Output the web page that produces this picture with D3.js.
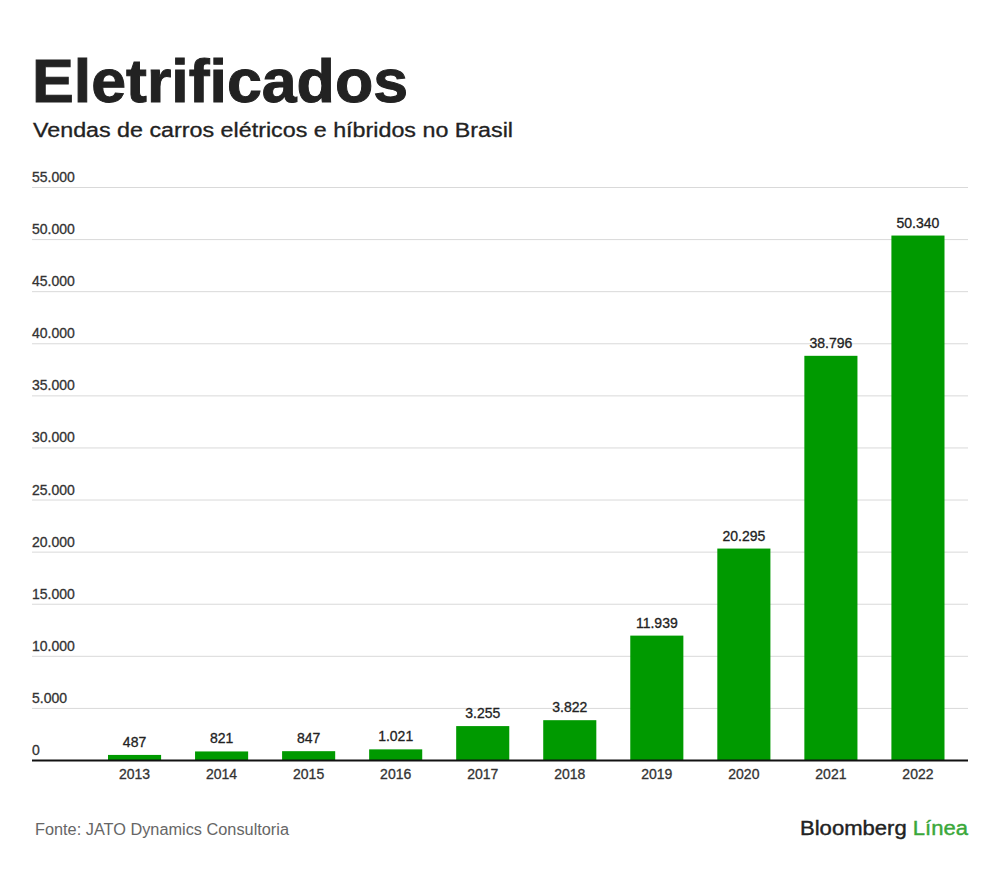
<!DOCTYPE html>
<html>
<head>
  <meta charset="utf-8">
  <title>Eletrificados</title>
  <style>
    body { margin: 0; background: #fff; }
    text { font-family: "Liberation Sans", Arial, sans-serif; }
    .grid line { stroke: #d9d9d9; stroke-width: 1px; }
    .tick-label { font-size: 14px; fill: #333; stroke: #333; stroke-width: 0.3px; }
    .year { font-size: 14px; fill: #333; stroke: #333; stroke-width: 0.3px; }
    .value { font-size: 14px; fill: #222; stroke: #222; stroke-width: 0.3px; }
  </style>
</head>
<body>
  <div id="chart"></div>

  <script src="https://d3js.org/d3.v7.min.js"></script>
  <script>
    var years = ["2013", "2014", "2015", "2016", "2017", "2018", "2019", "2020", "2021", "2022"];
    var sales = [487, 821, 847, 1021, 3255, 3822, 11939, 20295, 38796, 50340];
    var yTicks = [0, 5000, 10000, 15000, 20000, 25000, 30000, 35000, 40000, 45000, 50000, 55000];

    var width = 1000, height = 872;
    var gridLeft = 32, gridRight = 968;

    var svg = d3.select("#chart").append("svg")
      .attr("width", width)
      .attr("height", height);

    var fmt = function(v) {
      return d3.format(",")(v).replace(/,/g, ".");
    };

    var y = d3.scaleLinear().domain([0, 55000]).range([760, 187]);
    var x = d3.scaleBand().domain(years).range([84.5, 968])
      .paddingInner(0.39).paddingOuter(0.27);

    // titles
    svg.append("text")
      .attr("x", 32).attr("y", 102)
      .attr("font-size", 62).attr("font-weight", "bold")
      .attr("fill", "#222").attr("stroke", "#222").attr("stroke-width", 1)
      .attr("textLength", 376)
      .attr("lengthAdjust", "spacingAndGlyphs")
      .text("Eletrificados");

    svg.append("text")
      .attr("x", 33).attr("y", 137)
      .attr("font-size", 20)
      .attr("fill", "#222").attr("stroke", "#222").attr("stroke-width", 0.3)
      .attr("textLength", 480)
      .attr("lengthAdjust", "spacingAndGlyphs")
      .text("Vendas de carros elétricos e híbridos no Brasil");

    // grid
    var grid = svg.append("g").attr("class", "grid");
    grid.selectAll("line")
      .data(yTicks.filter(function(d) { return d > 0; }))
      .enter().append("line")
      .attr("x1", gridLeft).attr("x2", gridRight)
      .attr("y1", function(d) { return y(d) + 0.5; })
      .attr("y2", function(d) { return y(d) + 0.5; });

    svg.selectAll("text.tick-label")
      .data(yTicks)
      .enter().append("text")
      .attr("class", "tick-label")
      .attr("x", gridLeft)
      .attr("y", function(d) { return y(d) - 5; })
      .text(function(d) { return fmt(d); });

    // bars
    svg.selectAll("rect.bar")
      .data(sales)
      .enter().append("rect")
      .attr("class", "bar")
      .attr("x", function(d, i) { return x(years[i]); })
      .attr("width", x.bandwidth())
      .attr("y", function(d) { return y(d); })
      .attr("height", function(d) { return y(0) - y(d); })
      .attr("fill", "#009a00");

    svg.selectAll("text.value")
      .data(sales)
      .enter().append("text")
      .attr("class", "value")
      .attr("text-anchor", "middle")
      .attr("x", function(d, i) { return x(years[i]) + x.bandwidth() / 2; })
      .attr("y", function(d) { return y(d) - 8; })
      .text(function(d) { return fmt(d); });

    // baseline
    svg.append("line")
      .attr("x1", gridLeft).attr("x2", gridRight)
      .attr("y1", y(0) + 0.5).attr("y2", y(0) + 0.5)
      .attr("stroke", "#111").attr("stroke-width", 2);

    svg.selectAll("text.year")
      .data(years)
      .enter().append("text")
      .attr("class", "year")
      .attr("text-anchor", "middle")
      .attr("x", function(d) { return x(d) + x.bandwidth() / 2; })
      .attr("y", 779)
      .text(function(d) { return d; });

    // footer
    svg.append("text")
      .attr("x", 35).attr("y", 835)
      .attr("font-size", 16)
      .attr("fill", "#666")
      .attr("textLength", 254)
      .attr("lengthAdjust", "spacingAndGlyphs")
      .text("Fonte: JATO Dynamics Consultoria");

    var brand = svg.append("text")
      .attr("x", 968).attr("y", 835)
      .attr("text-anchor", "end")
      .attr("font-size", 20)
      .attr("font-family", "'Open Sans', sans-serif")
      .attr("textLength", 168)
      .attr("lengthAdjust", "spacingAndGlyphs");
    brand.append("tspan").attr("fill", "#222").attr("stroke", "#222").attr("stroke-width", 0.4).text("Bloomberg ");
    brand.append("tspan").attr("fill", "#3aa83a").attr("stroke", "#3aa83a").attr("stroke-width", 0.4).text("Línea");
  </script>
</body>
</html>
